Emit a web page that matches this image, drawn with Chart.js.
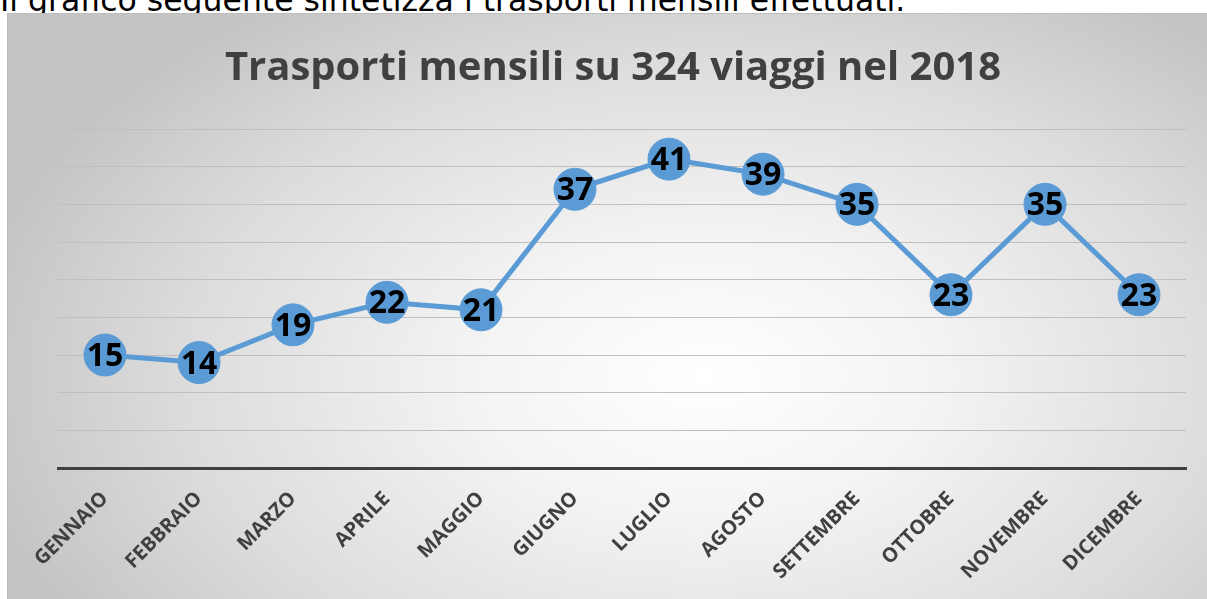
<!DOCTYPE html>
<html>
<head>
<meta charset="utf-8">
<script src="https://cdn.jsdelivr.net/npm/chart.js@4"></script>
<style>
  html, body { margin: 0; padding: 0; background: #fff; width: 1207px; height: 599px; overflow: hidden; }
  #intro {
    position: absolute; left: 0; top: -15px; margin: 0; line-height: 30px;
    font-family: "DejaVu Sans", sans-serif; font-size: 31.5px; color: #000; white-space: nowrap;
  }
  #box {
    position: absolute; left: 7px; top: 13px; width: 1200px; height: 586px;
    border-top: 1px solid #bdbdbd; border-left: 1px solid #bdbdbd;
    background: radial-gradient(ellipse 62% 78% at 58% 62%, #ffffff 0%, #f4f4f4 30%, #dcdcdc 70%, #c4c4c4 100%);
  }
  #chart { display: block; }
</style>
</head>
<body>
<p id="intro">Il grafico seguente sintetizza i trasporti mensili effettuati.</p>
<div id="box"><canvas id="chart" width="1200" height="586"></canvas></div>
<script>
"use strict";

// ── Data ──
const MONTHS = ["GENNAIO","FEBBRAIO","MARZO","APRILE","MAGGIO","GIUGNO",
                "LUGLIO","AGOSTO","SETTEMBRE","OTTOBRE","NOVEMBRE","DICEMBRE"];
const TRIPS  = [15, 14, 19, 22, 21, 37, 41, 39, 35, 23, 35, 23];
const TITLE  = "Trasporti mensili su 324 viaggi nel 2018";

const BLUE = "#5b9bd5";
const DARK = "#404040";

// ── Value labels drawn on top of the markers ──
const pointLabels = {
  id: "pointLabels",
  afterDatasetsDraw(chart) {
    const ctx  = chart.ctx;
    const meta = chart.getDatasetMeta(0);
    ctx.save();
    ctx.font = "bold 32px 'Open Sans', sans-serif";
    ctx.fillStyle = "#000";
    ctx.textAlign = "center";
    ctx.textBaseline = "middle";
    meta.data.forEach((pt, i) => {
      ctx.fillText(String(TRIPS[i]), pt.x, pt.y + 2);
    });
    ctx.restore();
  }
};

new Chart(document.getElementById("chart").getContext("2d"), {
  type: "line",
  data: {
    labels: MONTHS,
    datasets: [{
      data: TRIPS,
      borderColor: BLUE,
      borderWidth: 5,
      pointRadius: 21,
      pointHoverRadius: 21,
      pointBackgroundColor: BLUE,
      pointBorderColor: BLUE,
      pointBorderWidth: 1,
      tension: 0
    }]
  },
  options: {
    responsive: false,
    animation: false,
    events: [],
    layout: { padding: { left: 30, right: 20, top: 14, bottom: 0 } },
    plugins: {
      legend: { display: false },
      tooltip: { enabled: false },
      title: {
        display: true,
        text: TITLE,
        color: DARK,
        font: { family: "'Open Sans', sans-serif", size: 40, weight: "bold", lineHeight: 1.2 },
        padding: { top: 17, bottom: 36 }
      }
    },
    scales: {
      x: {
        offset: true,
        grid: { display: false },
        border: { display: true, color: DARK, width: 3 },
        ticks: {
          color: DARK,
          minRotation: 45,
          maxRotation: 45,
          padding: 11,
          font: { family: "'Open Sans', sans-serif", size: 20, weight: "bold" }
        },
        afterFit(scale) { scale.height = 132; }
      },
      y: {
        min: 0,
        max: 45,
        ticks: { display: false, stepSize: 5 },
        grid: { color: "#bfbfbf", lineWidth: 1, drawTicks: false },
        border: { display: false },
        afterFit(scale) { scale.width = 20; }
      }
    }
  },
  plugins: [pointLabels]
});
</script>
</body>
</html>
